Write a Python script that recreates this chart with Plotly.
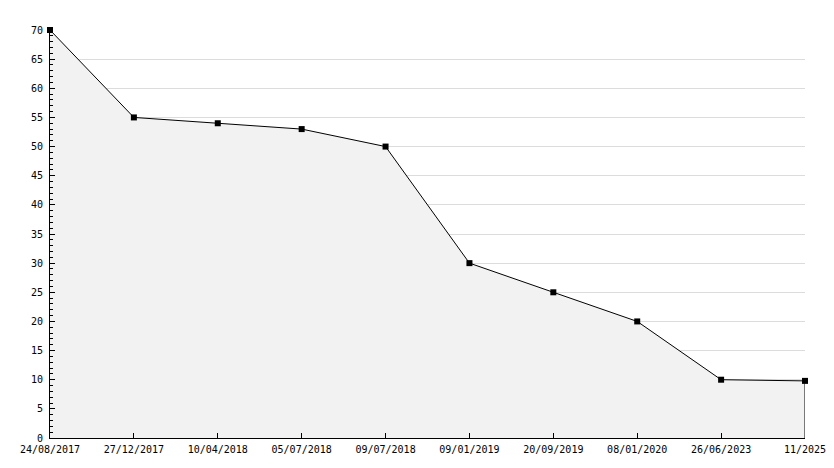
import plotly.graph_objects as go

dates = ["24/08/2017", "27/12/2017", "10/04/2018", "05/07/2018", "09/07/2018",
         "09/01/2019", "20/09/2019", "08/01/2020", "26/06/2023", "11/2025"]
values = [70, 55, 54, 53, 50, 30, 25, 20, 10, 9.8]

idx = list(range(len(dates)))

fig = go.Figure()
fig.add_trace(go.Scatter(
    x=idx, y=values, mode="lines+markers",
    fill="tozeroy", fillcolor="#f2f2f2",
    line=dict(color="black", width=1),
    marker=dict(symbol="square", size=6, color="black"),
    hoverinfo="x+y", showlegend=False, cliponaxis=False,
))
# right edge of filled area
fig.add_trace(go.Scatter(
    x=[idx[-1], idx[-1]], y=[0, values[-1]], mode="lines",
    line=dict(color="black", width=1), showlegend=False, hoverinfo="skip",
))

font = dict(family="DejaVu Sans Mono", size=10, color="black")
fig.update_layout(
    width=826, height=452,
    margin=dict(l=42, r=29, t=22, b=22, autoexpand=False),
    paper_bgcolor="white", plot_bgcolor="white",
    font=font,
    xaxis=dict(
        range=[0, len(dates) - 1], tickmode="array", tickvals=idx, ticktext=dates,
        showgrid=False, zeroline=False, automargin=False,
        showline=True, linecolor="black", linewidth=1,
        ticks="inside", ticklen=5, tickcolor="black", tickfont=font,
        ticklabelstandoff=2,
    ),
    yaxis=dict(
        range=[0, 70], dtick=5, tick0=0, automargin=False,
        showgrid=True, gridcolor="#dcdcdc", gridwidth=1, zeroline=False,
        showline=True, linecolor="black", linewidth=1,
        ticks="inside", ticklen=5, tickcolor="black", tickfont=font,
        ticklabelstandoff=4,
        minor=dict(dtick=1, ticks="inside", ticklen=3, tickcolor="black", showgrid=False),
    ),
)

fig.write_html("out.html")
